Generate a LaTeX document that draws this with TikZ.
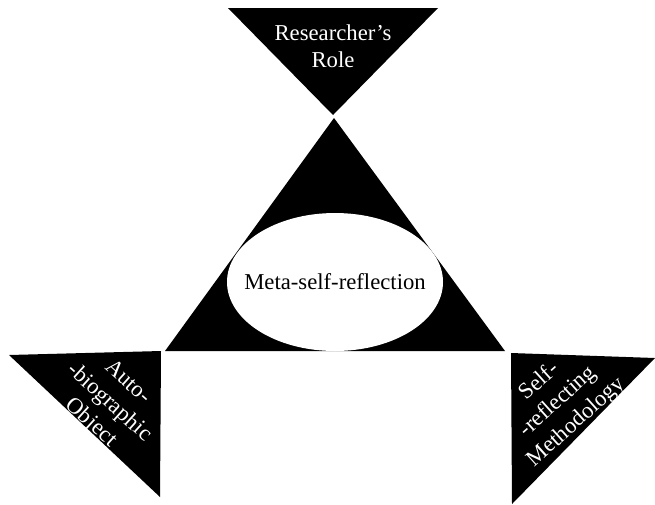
\documentclass[tikz,border=0pt]{standalone}
\usepackage{fontspec}
\setmainfont{Liberation Serif}
\usetikzlibrary{shapes.geometric}
\begin{document}
\begin{tikzpicture}[x=1pt,y=-1pt,
  wedge/.style={fill=black},
  label/.style={text=white,align=center,font=\fontsize{22.7}{27.5}\selectfont,inner sep=0pt},
  core/.style={ellipse,fill=white,inner sep=0pt,minimum width=216pt,minimum height=138pt},
  coretext/.style={inner sep=0pt,font=\fontsize{22.7}{27.5}\selectfont}]
\useasboundingbox (0,0) rectangle (655,504);
% upper inverted triangle
\coordinate (rA) at (228,8);
\coordinate (rB) at (438,8);
\coordinate (rC) at (333,115);
\fill[wedge] (rA) -- (rB) -- (rC) -- cycle;
\node[label] (role) at (333,46) {Researcher’s\\Role};
% central triangle with the white ellipse
\coordinate (mA) at (334,118);
\coordinate (mB) at (165,351);
\coordinate (mC) at (505,351);
\fill[wedge] (mA) -- (mB) -- (mC) -- cycle;
\node[core] (meta) at (335,282) {};
\node[coretext] (metatext) at (meta.center) {Meta-self-reflection};
% lower left triangle
\coordinate (lA) at (9,355);
\coordinate (lB) at (161,351);
\coordinate (lC) at (160,497);
\fill[wedge] (lA) -- (lB) -- (lC) -- cycle;
\node[label,rotate=-42] (auto) at (109,403) {Auto-\\-biographic\\Object};
% lower right triangle
\coordinate (qA) at (511,353);
\coordinate (qB) at (655,358);
\coordinate (qC) at (512,504);
\fill[wedge] (qA) -- (qB) -- (qC) -- cycle;
\node[label,rotate=42] (self) at (558,402) {Self-\\-reflecting\\Methodology};
\end{tikzpicture}
\end{document}
